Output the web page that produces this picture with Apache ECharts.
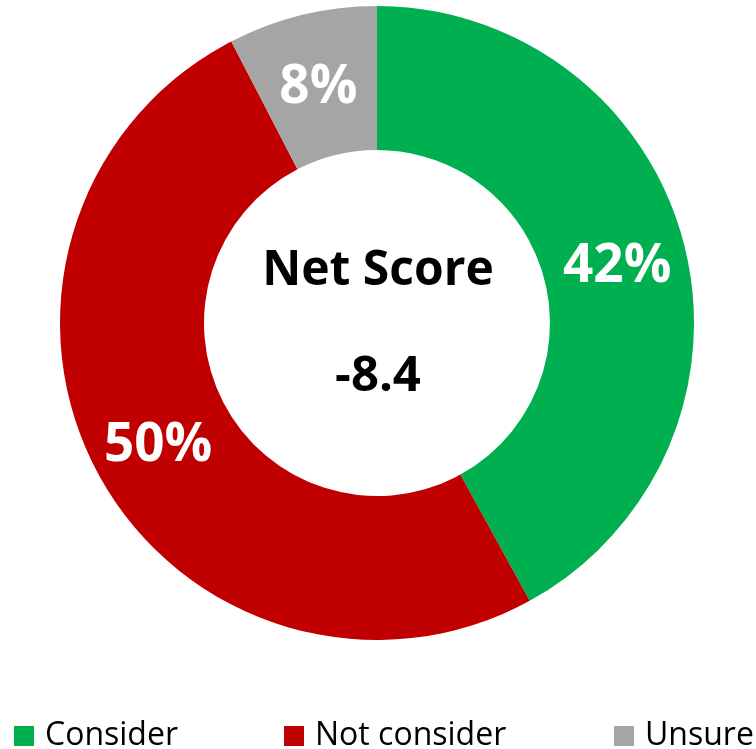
<!DOCTYPE html>
<html>
  <head>
      <meta charset="utf-8">
      <script src="https://cdn.jsdelivr.net/npm/echarts@6/dist/echarts.min.js"></script>
      <style>
        html, body { margin: 0; padding: 0; background: #fff; }
      </style>
  </head>
  <body>
      <div id="main" style="width: 756px;height:749px;"></div>
      <script type="text/javascript">
          // data
          var categories = ['Consider', 'Not consider', 'Unsure'];
          var shares = [42.0, 50.4, 7.6];
          var netScore = -8.4;
          var colors = ['#00B050', '#C00000', '#A5A5A5'];
          var legendLeft = [14, 284, 614];

          var myChart = echarts.init(document.getElementById('main'));

          var pieData = categories.map(function (name, i) {
              return { name: name, value: shares[i] };
          });

          // one legend per item so each sits where the original puts it
          var legends = categories.map(function (name, i) {
              return {
                  data: [name],
                  left: legendLeft[i],
                  top: 720,
                  padding: 0,
                  icon: 'rect',
                  itemWidth: 20,
                  itemHeight: 20,
                  selectedMode: false,
                  textStyle: {
                      fontFamily: 'Open Sans',
                      fontSize: 32,
                      color: '#000',
                      padding: [0, 0, 0, 6]
                  }
              };
          });

          var option = {
              color: colors,
              animation: false,
              legend: legends,
              graphic: [
                  {
                      type: 'text',
                      left: 'center',
                      top: 247,
                      style: {
                          text: 'Net Score',
                          fontFamily: 'Open Sans',
                          fontWeight: 'bold',
                          fontSize: 48,
                          fill: '#000'
                      }
                  },
                  {
                      type: 'text',
                      left: 'center',
                      top: 353,
                      style: {
                          text: netScore.toFixed(1),
                          fontFamily: 'Open Sans',
                          fontWeight: 'bold',
                          fontSize: 49,
                          fill: '#000'
                      }
                  }
              ],
              series: [
                  {
                      type: 'pie',
                      center: [377, 323],
                      radius: [173, 317],
                      startAngle: 90,
                      clockwise: true,
                      avoidLabelOverlap: false,
                      label: {
                          show: true,
                          position: 'inside',
                          formatter: function (p) {
                              return '{v|' + Math.round(p.value) + '%}';
                          },
                          rich: {
                              v: {
                                  fontFamily: 'Open Sans',
                                  fontWeight: 'bold',
                                  fontSize: 53,
                                  color: '#fff',
                                  padding: [12, 0, 0, 0]
                              }
                          }
                      },
                      labelLine: { show: false },
                      emphasis: { disabled: true },
                      itemStyle: { borderWidth: 0 },
                      data: pieData
                  }
              ]
          };

          myChart.setOption(option);
      </script>
  </body>
</html>
